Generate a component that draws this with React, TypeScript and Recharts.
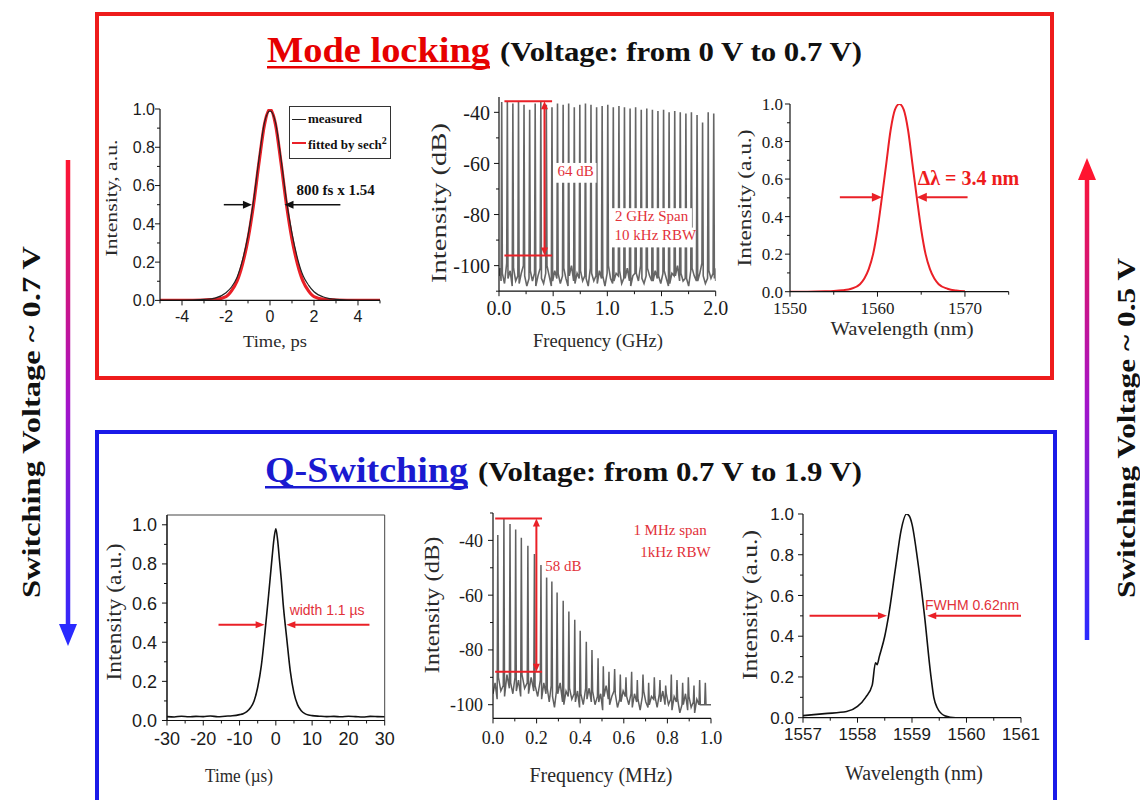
import React from "react";
import {
  Legend,
  Line,
  LineChart,
  ReferenceArea,
  ReferenceDot,
  ReferenceLine,
  XAxis,
  YAxis,
} from "recharts";

const SANS = "'Liberation Sans', Arial, sans-serif";
const SERIF = "'Liberation Serif', 'Times New Roman', serif";
const ANNO_RED = "#e2313a";
const LINE_RED = "#ea2027";

// ---------- mode locking: autocorrelation trace
const acTime = [-5, -4, -3, -2.5, -2, -1.75, -1.5, -1.25, -1, -0.75, -0.5, -0.25, 0, 0.25, 0.5, 0.75, 1, 1.25, 1.5, 1.75, 2, 2.5, 3, 4, 5];
const acMeasured = [0, 0, 0.005, 0.012, 0.04, 0.07, 0.12, 0.21, 0.34, 0.52, 0.74, 0.93, 0.99, 0.93, 0.74, 0.52, 0.35, 0.22, 0.13, 0.08, 0.045, 0.015, 0.005, 0, 0];
const acFitted = [0, 0, 0.002, 0.005, 0.02, 0.05, 0.1, 0.19, 0.32, 0.5, 0.72, 0.92, 1.0, 0.92, 0.72, 0.5, 0.32, 0.19, 0.1, 0.05, 0.02, 0.005, 0.002, 0, 0];

// ---------- mode locking: RF spectrum (GHz, dB)
const mlRfLineFreq = [0.025, 0.077, 0.128, 0.18, 0.231, 0.283, 0.334, 0.386, 0.437, 0.489, 0.54, 0.592, 0.643, 0.695, 0.746, 0.798, 0.849, 0.901, 0.952, 1.004, 1.055, 1.107, 1.158, 1.21, 1.261, 1.313, 1.364, 1.416, 1.467, 1.519, 1.57, 1.622, 1.673, 1.725, 1.776, 1.828, 1.879, 1.931, 1.982];
const mlRfLinePeak = [-36, -36, -36.5, -36, -37, -39, -36.5, -36, -37, -38, -36.5, -37, -36.5, -38, -37, -36.5, -37, -38, -37.5, -37, -38, -37.5, -38, -38.5, -38, -39, -38.5, -39, -39.5, -39, -40, -39.5, -40, -40.5, -40, -41, -44, -40, -40.5];
const mlRfFloor = [
  -104, -101, -106, -103, -107, -99, -105, -102, -108, -101, -106, -104, -107, -103, -100, -104, -108, -105, -102, -106, -103, -108, -104, -101, -105, -107, -103, -100, -104, -108,
  -106, -102, -105, -103, -107, -104, -101, -105, -108, -104, -100, -106, -107, -103, -105, -102, -106, -104, -105, -108, -101, -103, -106, -104, -107, -102, -105, -104, -108, -103,
  -100, -105, -107, -106, -103, -104, -102, -107, -105, -105, -101, -106, -108, -104, -103, -103, -106, -100, -105, -107, -104, -101, -104, -106, -106, -102, -105, -104, -107, -103,
  -102, -105, -108, -107, -103, -104, -104, -100, -106, -103, -106, -105, -105, -108, -102, -101, -104, -106, -106, -103, -99, -104, -107, -105, -102, -105, -103, -105, -101, -106,
];

// ---------- mode locking: optical spectrum
const mlWavelength = [1550, 1552, 1554, 1555, 1556, 1557, 1558, 1558.5, 1559, 1559.5, 1560, 1560.5, 1561, 1561.5, 1562, 1562.5, 1563, 1563.5, 1564, 1564.5, 1565, 1565.5, 1566, 1566.5, 1567, 1568, 1569, 1570];
const mlSpectrum = [0, 0, 0.002, 0.004, 0.008, 0.016, 0.04, 0.07, 0.12, 0.2, 0.33, 0.5, 0.68, 0.86, 0.97, 1.0, 0.97, 0.86, 0.68, 0.5, 0.33, 0.2, 0.12, 0.07, 0.04, 0.016, 0.006, 0.002];

// ---------- Q-switching: pulse trace
const qsTime = [-30, -28, -26, -24, -22, -20, -18, -16, -14, -12, -10, -9, -8, -7, -6, -5, -4, -3, -2, -1.5, -1, -0.5, 0, 0.5, 1, 1.5, 2, 3, 4, 5, 6, 7, 8, 9, 10, 12, 14, 16, 18, 20, 22, 24, 26, 28, 30];
const qsPulse = [0.02, 0.018, 0.022, 0.019, 0.021, 0.02, 0.023, 0.019, 0.022, 0.024, 0.03, 0.035, 0.045, 0.065, 0.1, 0.17, 0.28, 0.45, 0.64, 0.74, 0.84, 0.93, 0.98, 0.92, 0.82, 0.72, 0.6, 0.42, 0.25, 0.14, 0.08, 0.05, 0.035, 0.028, 0.025, 0.022, 0.02, 0.021, 0.019, 0.022, 0.02, 0.018, 0.021, 0.02, 0.019];

// ---------- Q-switching: RF spectrum (MHz, dB)
const qsRfLineFreq = [0.022, 0.05, 0.078, 0.104, 0.13, 0.16, 0.19, 0.22, 0.246, 0.27, 0.294, 0.322, 0.348, 0.375, 0.4, 0.428, 0.454, 0.482, 0.506, 0.532, 0.558, 0.584, 0.61, 0.636, 0.662, 0.688, 0.714, 0.74, 0.766, 0.792, 0.818, 0.844, 0.87, 0.896, 0.922, 0.948, 0.974];
const qsRfLinePeak = [-38, -32, -34, -36, -39, -42, -45, -49, -51, -55, -59, -62, -66, -69, -73, -77, -80, -83, -86, -88, -87, -89, -90, -88, -91, -89, -92, -90, -91, -93, -89, -91, -92, -90, -93, -91, -92];
const qsRfFloor = [
  -96, -92, -98, -90, -95, -93, -97, -89, -94, -92, -96, -90, -95, -91, -97, -89, -94, -92, -96, -90, -95, -93, -97, -91, -98, -92, -96, -94, -99, -93,
  -97, -101, -95, -96, -92, -99, -100, -95, -97, -94, -98, -96, -99, -95, -101, -96, -100, -94, -98, -94, -99, -95, -100, -97, -99, -96, -102, -97, -93, -98,
  -100, -97, -95, -96, -101, -98, -99, -95, -97, -97, -100, -96, -101, -96, -99, -98, -102, -97, -95, -99, -101, -100, -97, -98, -97, -101, -96, -99, -95, -100,
  -96, -100, -98, -102, -97, -99, -98, -103, -100, -100, -96, -102, -97, -101, -99, -103, -98, -100,
];

// ---------- Q-switching: optical spectrum
const qsWavelength = [1557, 1557.4, 1557.8, 1558.0, 1558.15, 1558.27, 1558.33, 1558.36, 1558.4, 1558.5, 1558.57, 1558.7, 1558.8, 1558.9, 1558.95, 1559.0, 1559.1, 1559.23, 1559.34, 1559.4, 1559.46, 1559.6, 1559.8, 1561];
const qsSpectrum = [0.01, 0.02, 0.03, 0.055, 0.1, 0.16, 0.27, 0.26, 0.3, 0.4, 0.5, 0.74, 0.92, 1.0, 0.99, 0.95, 0.78, 0.5, 0.22, 0.1, 0.05, 0.01, 0, 0];

// ---------- ticks
const unitTicks = [0, 0.1, 0.2, 0.3, 0.4, 0.5, 0.6, 0.7, 0.8, 0.9, 1.0];
const unitLabels = [0, 0.2, 0.4, 0.6, 0.8, 1.0];
const acXTicks = [-5, -4, -3, -2, -1, 0, 1, 2, 3, 4, 5];
const acXLabels = [-4, -2, 0, 2, 4];
const mlRfXTicks = [0, 0.25, 0.5, 0.75, 1, 1.25, 1.5, 1.75, 2];
const mlRfXLabels = [0, 0.5, 1, 1.5, 2];
const mlRfYTicks = [-110, -100, -90, -80, -70, -60, -50, -40];
const dbLabels = [-100, -80, -60, -40];
const mlWlTicks = [1550, 1555, 1560, 1565, 1570, 1575];
const mlWlLabels = [1550, 1560, 1570];
const qsTimeTicks = [-30, -25, -20, -15, -10, -5, 0, 5, 10, 15, 20, 25, 30];
const qsTimeLabels = [-30, -20, -10, 0, 10, 20, 30];
const qsRfXTicks = [0, 0.1, 0.2, 0.3, 0.4, 0.5, 0.6, 0.7, 0.8, 0.9, 1.0];
const qsRfXLabels = [0, 0.2, 0.4, 0.6, 0.8, 1.0];
const qsRfYTicks = [-100, -90, -80, -70, -60, -50, -40, -30];
const qsWlTicks = [1557, 1557.5, 1558, 1558.5, 1559, 1559.5, 1560, 1560.5, 1561];
const qsWlLabels = [1557, 1558, 1559, 1560, 1561];

type Pt = { x: number; y: number };
type Rect = { x: number; y: number; w: number; h: number };

const zip = (xs: number[], ys: number[]): Pt[] => xs.map((x, i) => ({ x, y: ys[i] }));

// comb of narrow lines standing on a noise floor (3 floor readings per gap)
function buildComb(freq: number[], peak: number[], floor: number[], start: number, end: number, hw: number): Pt[] {
  const pts: Pt[] = [];
  for (let g = 0; g <= freq.length; g++) {
    const a = g === 0 ? start : freq[g - 1] + hw;
    const b = g === freq.length ? end : freq[g] - hw;
    [0, 0.5, 1].forEach((t, j) => {
      pts.push({ x: a + (b - a) * t, y: floor[g * 3 + j] ?? -100 });
    });
    if (g < freq.length) pts.push({ x: freq[g], y: peak[g] });
  }
  return pts;
}

const acData = acTime.map((x, i) => ({ x, measured: acMeasured[i], fitted: acFitted[i] }));
const mlRfData = buildComb(mlRfLineFreq, mlRfLinePeak, mlRfFloor, 0, 2, 0.006);
const mlSpecData = zip(mlWavelength, mlSpectrum);
const qsPulseData = zip(qsTime, qsPulse);
const qsRfData = buildComb(qsRfLineFreq, qsRfLinePeak, qsRfFloor, 0, 1, 0.003);
const qsSpecData = zip(qsWavelength, qsSpectrum);

const fix1 = (v: number) => v.toFixed(1);
const plain = (v: number) => String(v);

type TickCfg = { labels: number[]; fmt: (v: number) => string; font: string; size: number; gap: number };

const isLabel = (cfg: TickCfg, v: number) => cfg.labels.some((m) => Math.abs(m - v) < 1e-6);

function xTick(cfg: TickCfg) {
  return (props: any) => {
    const { x, y, payload } = props;
    const major = isLabel(cfg, payload.value);
    return (
      <g>
        <line x1={x} y1={y} x2={x} y2={y + (major ? 5 : 3)} stroke="#111" strokeWidth={1} />
        {major && (
          <text x={x} y={y + cfg.gap} textAnchor="middle" fontFamily={cfg.font} fontSize={cfg.size} fill="#1a1a1a">
            {cfg.fmt(payload.value)}
          </text>
        )}
      </g>
    );
  };
}

function yTick(cfg: TickCfg) {
  return (props: any) => {
    const { x, y, payload } = props;
    const major = isLabel(cfg, payload.value);
    return (
      <g>
        <line x1={x} y1={y} x2={x - (major ? 5 : 3)} y2={y} stroke="#111" strokeWidth={1} />
        {major && (
          <text x={x - cfg.gap} y={y + cfg.size * 0.36} textAnchor="end" fontFamily={cfg.font} fontSize={cfg.size} fill="#1a1a1a">
            {cfg.fmt(payload.value)}
          </text>
        )}
      </g>
    );
  };
}

function arrowShape(color: string, width: number, both = false, head = 9, half = 4) {
  return (p: any) => {
    const { x1, y1, x2, y2 } = p;
    const len = Math.hypot(x2 - x1, y2 - y1) || 1;
    const ux = (x2 - x1) / len;
    const uy = (y2 - y1) / len;
    const tri = (tx: number, ty: number, sx: number, sy: number) => {
      const bx = tx - sx * head;
      const by = ty - sy * head;
      return `${tx},${ty} ${bx - sy * half},${by + sx * half} ${bx + sy * half},${by - sx * half}`;
    };
    return (
      <g>
        <line
          x1={both ? x1 + ux * head * 0.8 : x1}
          y1={both ? y1 + uy * head * 0.8 : y1}
          x2={x2 - ux * head * 0.8}
          y2={y2 - uy * head * 0.8}
          stroke={color}
          strokeWidth={width}
        />
        <polygon points={tri(x2, y2, ux, uy)} fill={color} />
        {both && <polygon points={tri(x1, y1, -ux, -uy)} fill={color} />}
      </g>
    );
  };
}

// annotation text; bgWidth > 0 paints a white patch behind it (as in the source figure)
function textShape(content: React.ReactNode, font: string, size: number, fill: string, bold = false, bgWidth = 0) {
  return (p: any) => (
    <g>
      {bgWidth > 0 && <rect x={p.cx - 3} y={p.cy - size * 0.85} width={bgWidth} height={size * 1.32} fill="#fff" />}
      <text x={p.cx} y={p.cy} fontFamily={font} fontSize={size} fontWeight={bold ? 700 : 400} fill={fill}>
        {content}
      </text>
    </g>
  );
}

function frame(p: Rect, yw = 60, xh = 40, mt = 14, mr = 24) {
  return {
    style: { position: "absolute", left: p.x - yw, top: p.y - mt } as React.CSSProperties,
    width: yw + p.w + mr,
    height: mt + p.h + xh,
    margin: { top: mt, right: mr, bottom: 0, left: 0 },
    yw,
    xh,
  };
}

const axisLine = { stroke: "#111", strokeWidth: 1.2 };
const tickCommon = { tickSize: 0, tickMargin: 0, tickLine: false, interval: 0 as const, allowDataOverflow: true };

const acLegendOrder = ["measured", "fitted by sech²"];

function AcLegend(props: any) {
  const items = [...(props.payload ?? [])].sort(
    (a: any, b: any) => acLegendOrder.indexOf(a.value) - acLegendOrder.indexOf(b.value),
  );
  return (
    <div
      style={{
        border: "1px solid #333",
        background: "#fff",
        padding: "1px 3px 1px 2px",
        fontFamily: SERIF,
        fontWeight: 700,
        fontSize: 13,
        lineHeight: "22px",
        color: "#111",
      }}
    >
      {items.map((it: any) => (
        <div key={it.value} style={{ display: "flex", alignItems: "center", whiteSpace: "nowrap" }}>
          <span
            style={{
              display: "inline-block",
              width: 14,
              height: it.value === "measured" ? 1.5 : 2,
              background: it.color,
              marginRight: 2,
            }}
          />
          {it.value.endsWith("²") ? (
            <span>
              {it.value.slice(0, -1)}
              <sup style={{ fontSize: 10 }}>2</sup>
            </span>
          ) : (
            it.value
          )}
        </div>
      ))}
    </div>
  );
}

function AutocorrelationChart() {
  const f = frame({ x: 160, y: 109.3, w: 220, h: 191.4 }, 50);
  return (
    <div style={f.style}>
      <LineChart width={f.width} height={f.height} margin={f.margin} data={acData}>
        <XAxis dataKey="x" type="number" domain={[-5, 5]} ticks={acXTicks} height={f.xh} axisLine={axisLine} {...tickCommon}
          tick={xTick({ labels: acXLabels, fmt: plain, font: SANS, size: 16, gap: 22 })} />
        <YAxis type="number" domain={[0, 1]} ticks={unitTicks} width={f.yw} axisLine={axisLine} {...tickCommon}
          tick={yTick({ labels: unitLabels, fmt: fix1, font: SANS, size: 16, gap: 5 })} />
        <Line dataKey="fitted" name="fitted by sech²" type="monotone" stroke={LINE_RED} strokeWidth={3.2} dot={false} isAnimationActive={false} />
        <Line dataKey="measured" name="measured" type="monotone" stroke="#222" strokeWidth={1.2} dot={false} isAnimationActive={false} />
        <ReferenceLine ifOverflow="visible" segment={[{ x: -2.1, y: 0.5 }, { x: -0.82, y: 0.5 }]} shape={arrowShape("#111", 1.5)} />
        <ReferenceLine ifOverflow="visible" segment={[{ x: 3.2, y: 0.5 }, { x: 0.66, y: 0.5 }]} shape={arrowShape("#111", 1.5)} />
        <ReferenceDot ifOverflow="visible" x={1.2} y={0.55} r={0} shape={textShape("800 fs x 1.54", SERIF, 15, "#111", true)} />
        <Legend layout="horizontal" verticalAlign="middle" align="center" content={AcLegend}
          wrapperStyle={{ left: 179, top: 11, width: "auto" }} />
      </LineChart>
    </div>
  );
}

function MlRfChart() {
  const f = frame({ x: 499.3, y: 97.4, w: 216.7, h: 194.2 });
  return (
    <div style={f.style}>
      <LineChart width={f.width} height={f.height} margin={f.margin} data={mlRfData}>
        <XAxis dataKey="x" type="number" domain={[0, 2]} ticks={mlRfXTicks} height={f.xh} axisLine={axisLine} {...tickCommon}
          tick={xTick({ labels: mlRfXLabels, fmt: fix1, font: SERIF, size: 20, gap: 24 })} />
        <YAxis type="number" domain={[-110, -34]} ticks={mlRfYTicks} width={f.yw} axisLine={axisLine} {...tickCommon}
          tick={yTick({ labels: dbLabels, fmt: plain, font: SERIF, size: 20, gap: 9 })} />
        <Line dataKey="y" type="linear" stroke="#666" strokeWidth={1.6} dot={false} isAnimationActive={false} />
        <ReferenceLine ifOverflow="visible" segment={[{ x: 0.05, y: -35.7 }, { x: 0.49, y: -35.7 }]} stroke={LINE_RED} strokeWidth={2} />
        <ReferenceLine ifOverflow="visible" segment={[{ x: 0.05, y: -96 }, { x: 0.49, y: -96 }]} stroke={LINE_RED} strokeWidth={2} />
        <ReferenceLine ifOverflow="visible" segment={[{ x: 0.42, y: -35.7 }, { x: 0.42, y: -96 }]} shape={arrowShape(LINE_RED, 2, true, 8, 3.5)} />
        <ReferenceDot ifOverflow="visible" x={0.54} y={-64.8} r={0} shape={textShape("64 dB", SERIF, 15, ANNO_RED, false, 42)} />
        <ReferenceDot ifOverflow="visible" x={1.07} y={-82.5} r={0} shape={textShape("2 GHz Span", SERIF, 15, ANNO_RED, false, 80)} />
        <ReferenceDot ifOverflow="visible" x={1.067} y={-90.1} r={0} shape={textShape("10 kHz RBW", SERIF, 15, ANNO_RED, false, 82)} />
      </LineChart>
    </div>
  );
}

function MlSpectrumChart() {
  const f = frame({ x: 790, y: 104, w: 218.7, h: 187.7 }, 60, 40, 14, 40);
  return (
    <div style={f.style}>
      <LineChart width={f.width} height={f.height} margin={f.margin} data={mlSpecData}>
        <XAxis dataKey="x" type="number" domain={[1550, 1575]} ticks={mlWlTicks} height={f.xh} axisLine={axisLine} {...tickCommon}
          tick={xTick({ labels: mlWlLabels, fmt: plain, font: SERIF, size: 17, gap: 22 })} />
        <YAxis type="number" domain={[0, 1]} ticks={unitTicks} width={f.yw} axisLine={axisLine} {...tickCommon}
          tick={yTick({ labels: unitLabels, fmt: fix1, font: SERIF, size: 17, gap: 7 })} />
        <Line dataKey="y" type="monotone" stroke={LINE_RED} strokeWidth={2} dot={false} isAnimationActive={false} />
        <ReferenceLine ifOverflow="visible" segment={[{ x: 1555.7, y: 0.503 }, { x: 1560.5, y: 0.503 }]} shape={arrowShape(LINE_RED, 2, false, 10, 4.5)} />
        <ReferenceLine ifOverflow="visible" segment={[{ x: 1570.3, y: 0.503 }, { x: 1564.5, y: 0.503 }]} shape={arrowShape(LINE_RED, 2, false, 10, 4.5)} />
        <ReferenceDot ifOverflow="visible" x={1564.6} y={0.568} r={0} shape={textShape("Δλ = 3.4 nm", SERIF, 20, "#ee1c1c", true)} />
      </LineChart>
    </div>
  );
}

function QsPulseChart() {
  const f = frame({ x: 167.3, y: 514.5, w: 217.7, h: 205.5 });
  return (
    <div style={f.style}>
      <LineChart width={f.width} height={f.height} margin={f.margin} data={qsPulseData}>
        <XAxis dataKey="x" type="number" domain={[-30, 30]} ticks={qsTimeTicks} height={f.xh} axisLine={axisLine} {...tickCommon}
          tick={xTick({ labels: qsTimeLabels, fmt: plain, font: SANS, size: 18, gap: 25 })} />
        <YAxis type="number" domain={[0, 1.05]} ticks={unitTicks} width={f.yw} axisLine={axisLine} {...tickCommon}
          tick={yTick({ labels: unitLabels, fmt: fix1, font: SANS, size: 18, gap: 10 })} />
        <ReferenceArea x1={-30} x2={30} y1={0} y2={1.05} fill="none" stroke="#444" strokeWidth={1} ifOverflow="visible" />
        <Line dataKey="y" type="monotone" stroke="#111" strokeWidth={1.6} dot={false} isAnimationActive={false} />
        <ReferenceLine ifOverflow="visible" segment={[{ x: -15.8, y: 0.489 }, { x: -3.1, y: 0.489 }]} shape={arrowShape(LINE_RED, 2, false, 9, 3.5)} />
        <ReferenceLine ifOverflow="visible" segment={[{ x: 25.8, y: 0.489 }, { x: 2.9, y: 0.489 }]} shape={arrowShape(LINE_RED, 2, false, 9, 3.5)} />
        <ReferenceDot ifOverflow="visible" x={3.8} y={0.537} r={0} shape={textShape("width 1.1 µs", SANS, 14, ANNO_RED)} />
      </LineChart>
    </div>
  );
}

function QsRfChart() {
  const f = frame({ x: 492.7, y: 512.6, w: 218, h: 205.4 });
  return (
    <div style={f.style}>
      <LineChart width={f.width} height={f.height} margin={f.margin} data={qsRfData}>
        <XAxis dataKey="x" type="number" domain={[0, 1]} ticks={qsRfXTicks} height={f.xh} axisLine={axisLine} {...tickCommon}
          tick={xTick({ labels: qsRfXLabels, fmt: fix1, font: SERIF, size: 18, gap: 26 })} />
        <YAxis type="number" domain={[-105, -30]} ticks={qsRfYTicks} width={f.yw} axisLine={axisLine} {...tickCommon}
          tick={yTick({ labels: dbLabels, fmt: plain, font: SERIF, size: 18, gap: 10 })} />
        <Line dataKey="y" type="linear" stroke="#606060" strokeWidth={1.5} dot={false} isAnimationActive={false} />
        <ReferenceLine ifOverflow="visible" segment={[{ x: 0.01, y: -32 }, { x: 0.225, y: -32 }]} stroke={LINE_RED} strokeWidth={2} />
        <ReferenceLine ifOverflow="visible" segment={[{ x: 0.01, y: -88 }, { x: 0.225, y: -88 }]} stroke={LINE_RED} strokeWidth={2} />
        <ReferenceLine ifOverflow="visible" segment={[{ x: 0.199, y: -32 }, { x: 0.199, y: -88 }]} shape={arrowShape(LINE_RED, 2, true, 8, 3.5)} />
        <ReferenceDot ifOverflow="visible" x={0.24} y={-51} r={0} shape={textShape("58 dB", SERIF, 15, ANNO_RED, false, 42)} />
        <ReferenceDot ifOverflow="visible" x={0.644} y={-38.2} r={0} shape={textShape("1 MHz span", SERIF, 15, ANNO_RED)} />
        <ReferenceDot ifOverflow="visible" x={0.676} y={-46.2} r={0} shape={textShape("1kHz RBW", SERIF, 15, ANNO_RED)} />
      </LineChart>
    </div>
  );
}

function QsSpectrumChart() {
  const f = frame({ x: 802.7, y: 514, w: 218, h: 203.7 });
  return (
    <div style={f.style}>
      <LineChart width={f.width} height={f.height} margin={f.margin} data={qsSpecData}>
        <XAxis dataKey="x" type="number" domain={[1557, 1561]} ticks={qsWlTicks} height={f.xh} axisLine={axisLine} {...tickCommon}
          tick={xTick({ labels: qsWlLabels, fmt: plain, font: SANS, size: 17, gap: 22 })} />
        <YAxis type="number" domain={[0, 1]} ticks={unitTicks} width={f.yw} axisLine={axisLine} {...tickCommon}
          tick={yTick({ labels: unitLabels, fmt: fix1, font: SANS, size: 17, gap: 9 })} />
        <Line dataKey="y" type="monotone" stroke="#111" strokeWidth={1.6} dot={false} isAnimationActive={false} />
        <ReferenceLine ifOverflow="visible" segment={[{ x: 1557.12, y: 0.5 }, { x: 1558.54, y: 0.5 }]} shape={arrowShape(LINE_RED, 2, false, 9, 3.5)} />
        <ReferenceLine ifOverflow="visible" segment={[{ x: 1561, y: 0.5 }, { x: 1559.28, y: 0.5 }]} shape={arrowShape(LINE_RED, 2, false, 9, 3.5)} />
        <ReferenceDot ifOverflow="visible" x={1559.24} y={0.529} r={0} shape={textShape("FWHM 0.62nm", SANS, 14, ANNO_RED)} />
      </LineChart>
    </div>
  );
}

type AxisTitle = { text: string; cx: number; cy: number; size: number; len: number; vertical?: boolean };

const axisTitles: AxisTitle[] = [
  { text: "Intensity, a.u.", cx: 111, cy: 198, size: 17, len: 117, vertical: true },
  { text: "Time, ps", cx: 275, cy: 341, size: 17, len: 64 },
  { text: "Intensity (dB)", cx: 439, cy: 203, size: 21, len: 160, vertical: true },
  { text: "Frequency (GHz)", cx: 598, cy: 340, size: 19, len: 130 },
  { text: "Intensity (a.u.)", cx: 745, cy: 198, size: 18, len: 137, vertical: true },
  { text: "Wavelength (nm)", cx: 902, cy: 328, size: 19, len: 143 },
  { text: "Intensity (a.u.)", cx: 114, cy: 612, size: 20, len: 137, vertical: true },
  { text: "Time (µs)", cx: 239, cy: 775, size: 19, len: 68 },
  { text: "Intensity (dB)", cx: 432, cy: 605, size: 20, len: 137, vertical: true },
  { text: "Frequency (MHz)", cx: 601, cy: 775, size: 20, len: 143 },
  { text: "Intensity (a.u.)", cx: 750, cy: 605, size: 20, len: 150, vertical: true },
  { text: "Wavelength (nm)", cx: 914, cy: 773, size: 20, len: 138 },
];

function Overlay() {
  return (
    <svg width={1140} height={800} style={{ position: "absolute", left: 0, top: 0 }}>
      <defs>
        <linearGradient id="swDown" x1="0" y1="160" x2="0" y2="645" gradientUnits="userSpaceOnUse">
          <stop offset="0%" stopColor="#ff1530" />
          <stop offset="50%" stopColor="#a514c8" />
          <stop offset="100%" stopColor="#2a2aff" />
        </linearGradient>
        <linearGradient id="swUp" x1="0" y1="160" x2="0" y2="640" gradientUnits="userSpaceOnUse">
          <stop offset="0%" stopColor="#ff1530" />
          <stop offset="50%" stopColor="#a514c8" />
          <stop offset="100%" stopColor="#2a2aff" />
        </linearGradient>
      </defs>

      <rect x={97} y={14} width={955} height={364} fill="none" stroke="#ee1c1c" strokeWidth={4} />
      <rect x={97} y={432} width={958} height={380} fill="none" stroke="#1a1ae8" strokeWidth={4} />

      <text x={267} y={62} fontFamily={SERIF} fontWeight={700} fontSize={36} fill="#e60000" textLength={223} lengthAdjust="spacingAndGlyphs">
        Mode locking
      </text>
      <rect x={267} y={66} width={223} height={2.5} fill="#e60000" />
      <text x={500} y={61} fontFamily={SERIF} fontWeight={700} fontSize={28} fill="#111" textLength={362} lengthAdjust="spacingAndGlyphs">
        (Voltage: from 0 V to 0.7 V)
      </text>

      <text x={265} y={482} fontFamily={SERIF} fontWeight={700} fontSize={36} fill="#1a1ad0" textLength={203} lengthAdjust="spacingAndGlyphs">
        Q-Switching
      </text>
      <rect x={265} y={486} width={203} height={2.5} fill="#1a1ad0" />
      <text x={478} y={481} fontFamily={SERIF} fontWeight={700} fontSize={28} fill="#111" textLength={384} lengthAdjust="spacingAndGlyphs">
        (Voltage: from 0.7 V to 1.9 V)
      </text>

      <line x1={68} y1={160} x2={68} y2={628} stroke="url(#swDown)" strokeWidth={4.5} />
      <polygon points="59,624 77,624 68,646" fill="#2a2aff" />
      <line x1={1087} y1={640} x2={1087} y2={176} stroke="url(#swUp)" strokeWidth={4.5} />
      <polygon points="1078,180 1096,180 1087,158" fill="#ff1530" />

      <text x={31} y={422} transform="rotate(-90 31 422)" textAnchor="middle" dominantBaseline="central" fontFamily={SERIF}
        fontWeight={700} fontSize={25} fill="#111" textLength={352} lengthAdjust="spacingAndGlyphs">
        Switching Voltage ~ 0.7 V
      </text>
      <text x={1126} y={428} transform="rotate(-90 1126 428)" textAnchor="middle" dominantBaseline="central" fontFamily={SERIF}
        fontWeight={700} fontSize={25} fill="#111" textLength={340} lengthAdjust="spacingAndGlyphs">
        Switching Voltage ~ 0.5 V
      </text>

      {axisTitles.map((t) => (
        <text
          key={`${t.text}-${t.cx}`}
          x={t.cx}
          y={t.cy}
          transform={t.vertical ? `rotate(-90 ${t.cx} ${t.cy})` : undefined}
          textAnchor="middle"
          dominantBaseline="central"
          fontFamily={SERIF}
          fontSize={t.size}
          fill="#2a2a2a"
          textLength={t.len}
          lengthAdjust="spacingAndGlyphs"
        >
          {t.text}
        </text>
      ))}
    </svg>
  );
}

export default function App() {
  return (
    <div style={{ position: "absolute", left: 0, top: 0, width: 1140, height: 800, background: "#fff", overflow: "hidden" }}>
      <Overlay />
      <AutocorrelationChart />
      <MlRfChart />
      <MlSpectrumChart />
      <QsPulseChart />
      <QsRfChart />
      <QsSpectrumChart />
    </div>
  );
}
